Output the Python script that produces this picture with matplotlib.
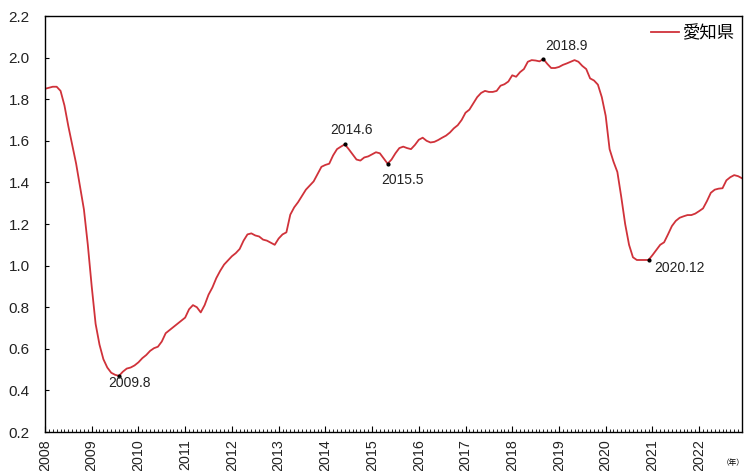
import matplotlib.pyplot as plt
import numpy as np

# monthly ratio, Jan 2008 .. Dec 2022
ratio = [
    1.85, 1.855, 1.86, 1.86, 1.84, 1.77, 1.67, 1.58, 1.49, 1.38, 1.27, 1.10,   # 2008
    0.90, 0.72, 0.62, 0.55, 0.51, 0.485, 0.475, 0.47, 0.49, 0.505, 0.51, 0.52,  # 2009
    0.535, 0.555, 0.57, 0.59, 0.603, 0.61, 0.635, 0.675, 0.69, 0.705, 0.72, 0.735,  # 2010
    0.75, 0.79, 0.81, 0.80, 0.775, 0.81, 0.86, 0.895, 0.94, 0.975, 1.005, 1.025,  # 2011
    1.045, 1.06, 1.08, 1.12, 1.15, 1.155, 1.145, 1.14, 1.125, 1.12, 1.11, 1.10,  # 2012
    1.13, 1.15, 1.16, 1.245, 1.28, 1.305, 1.335, 1.365, 1.385, 1.405, 1.44, 1.475,  # 2013
    1.484, 1.49, 1.53, 1.56, 1.572, 1.583, 1.56, 1.535, 1.51, 1.505, 1.52, 1.525,  # 2014
    1.535, 1.545, 1.54, 1.515, 1.49, 1.51, 1.54, 1.565, 1.572, 1.565, 1.56, 1.58,  # 2015
    1.605, 1.615, 1.60, 1.592, 1.595, 1.604, 1.615, 1.625, 1.64, 1.66, 1.675, 1.70,  # 2016
    1.735, 1.75, 1.78, 1.81, 1.83, 1.84, 1.835, 1.835, 1.84, 1.865, 1.872, 1.885,  # 2017
    1.915, 1.908, 1.93, 1.945, 1.98, 1.988, 1.986, 1.982, 1.993, 1.97, 1.95, 1.95,  # 2018
    1.955, 1.965, 1.972, 1.98, 1.988, 1.98, 1.96, 1.945, 1.90, 1.89, 1.87, 1.81,  # 2019
    1.72, 1.56, 1.50, 1.45, 1.33, 1.20, 1.10, 1.04, 1.027, 1.027, 1.027, 1.027,  # 2020
    1.05, 1.075, 1.10, 1.112, 1.15, 1.19, 1.215, 1.23, 1.237, 1.243, 1.243, 1.25,  # 2021
    1.262, 1.275, 1.31, 1.35, 1.365, 1.37, 1.372, 1.41, 1.425, 1.435, 1.43, 1.42,  # 2022
]
years = list(range(2008, 2023))

# labelled points: (label, month index)
marks = [("2009.8", 19), ("2014.6", 77), ("2015.5", 88), ("2018.9", 128), ("2020.12", 155)]
label_pos = {"2009.8": (21.8, 0.436), "2014.6": (78.6, 1.652), "2015.5": (91.7, 1.41),
             "2018.9": (134, 2.056), "2020.12": (163, 0.988)}

plt.rcParams['font.family'] = ['Noto Sans CJK JP', 'DejaVu Sans']
num_font = ['Liberation Sans', 'DejaVu Sans']

fig = plt.figure(figsize=(7.46, 4.71), dpi=100)
ax = fig.add_axes([0.0603, 0.0828, 0.9343, 0.8832])

x = np.arange(len(ratio))
ax.plot(x, ratio, color='#d0323a', lw=1.3, label='愛知県')

for name, i in marks:
    ax.plot(i, ratio[i], 'o', color='black', ms=2, zorder=3)
    lx, ly = label_pos[name]
    ax.text(lx, ly, name, ha='center', va='center', fontsize=10,
            family=num_font, color='#222222')

ax.set_xlim(0, len(ratio) - 1)
ax.set_ylim(0.2, 2.2)
ax.set_yticks(np.arange(0.2, 2.21, 0.2))
ax.set_yticklabels([f"{v:.1f}" for v in np.arange(0.2, 2.21, 0.2)])
ax.set_xticks([12 * k for k in range(len(years))])
ax.set_xticklabels([str(y) for y in years], rotation=90)
ax.set_xticks(x, minor=True)

ax.tick_params(axis='y', direction='in', length=3, labelsize=11, pad=11)
ax.tick_params(axis='x', which='major', direction='in', length=4, labelsize=10.3, pad=5)
ax.tick_params(axis='x', which='minor', direction='in', length=2.5, width=0.6)
for lbl in ax.get_xticklabels() + ax.get_yticklabels():
    lbl.set_family(num_font)
    lbl.set_color('#222222')
for s in ax.spines.values():
    s.set_linewidth(1.0)

leg = ax.legend(loc='upper right', frameon=False, fontsize=12.5, handlelength=1.6,
                handletextpad=0.2, borderaxespad=0.05)

fig.text(0.998, 0.018, '（年）', ha='right', va='center', fontsize=5.5)

fig.savefig('out.png', dpi=100)
